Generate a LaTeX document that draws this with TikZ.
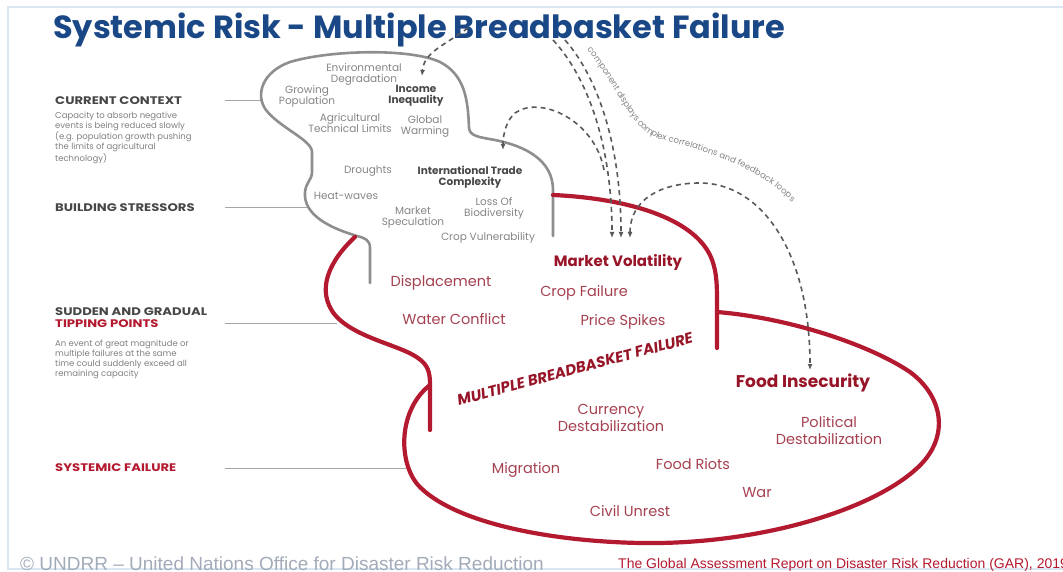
\documentclass[tikz,border=0pt]{standalone}
\usepackage{fontspec}
\setmainfont{Poppins}
\newfontfamily\footfont{Liberation Sans}
\usetikzlibrary{arrows.meta,decorations.text}
\definecolor{undrrblue}{HTML}{1A4886}
\definecolor{riskred}{HTML}{B3192F}
\definecolor{labelred}{HTML}{A5404F}
\definecolor{headgray}{HTML}{8E8E8E}
\definecolor{textgray}{HTML}{858585}
\definecolor{framegray}{HTML}{DCE6F2}
\definecolor{creditgray}{HTML}{A3ABB8}

\begin{document}
\begin{tikzpicture}[x=1pt, y=-1pt,
    headtext/.style={text=textgray, font=\fontsize{10.5}{11}\selectfont, align=center, inner sep=0pt},
    headbold/.style={headtext, text=black!72, font=\fontsize{10.5}{11}\selectfont\bfseries},
    failtext/.style={text=labelred, font=\fontsize{14.5}{17}\selectfont, align=center, inner sep=0pt},
    failbold/.style={failtext, text=riskred!85!black, font=\fontsize{15}{17}\selectfont\bfseries},
    stage/.style={anchor=west, xscale=1.2, font=\fontsize{11}{12}\selectfont\bfseries, text=black!72, inner sep=0pt},
    note/.style={anchor=north west, align=left, font=\fontsize{8.5}{10}\selectfont, text=black!50, inner sep=0pt},
    guide/.style={draw=black!35, line width=1pt},
    outline/.style={line width=2.6pt, draw=headgray, line cap=round},
    redline/.style={line width=4.2pt, draw=riskred, line cap=round},
    feedback/.style={draw=black!65, line width=1.6pt, dash pattern=on 5pt off 4pt},
    tip/.style={-{Latex[length=6pt,width=5pt]}},
  ]
  \useasboundingbox (0,0) rectangle (1063,572);
  \draw[framegray, line width=1.5pt] (8,7) rectangle (1075,569);

  \node[anchor=base west, inner sep=0pt, text=undrrblue, font=\fontsize{32}{34}\selectfont\bfseries] (title) at (53,39) {Systemic Risk - Multiple Breadbasket Failure};

  % left column
  \node[stage] (context) at (55,101) {CURRENT CONTEXT};
  \node[note] (contextnote) at (55,112) {Capacity to absorb negative\\events is being reduced slowly\\(e.g. population growth pushing\\the limits of agricultural\\technology)};
  \node[stage] (stressors) at (55,208) {BUILDING STRESSORS};
  \node[stage] (sudden) at (55,312) {SUDDEN AND GRADUAL};
  \node[stage, text=riskred] (tipping) at (55,324) {TIPPING POINTS};
  \node[note] (tippingnote) at (55,340) {An event of great magnitude or\\multiple failures at the same\\time could suddenly exceed all\\remaining capacity};
  \node[stage, text=riskred] (systemic) at (55,468) {SYSTEMIC FAILURE};

  \coordinate (contextend) at (262,101);
  \coordinate (stressorsend) at (307,208);
  \coordinate (tippingend) at (337,323);
  \coordinate (systemicend) at (406,468);
  \draw[guide] (contextend -| 225,0) -- (contextend);
  \draw[guide] (stressorsend -| 225,0) -- (stressorsend);
  \draw[guide] (tippingend -| 225,0) -- (tippingend);
  \draw[guide] (systemicend -| 225,0) -- (systemicend);

  % head
  \draw[outline] (370,283) -- (370,248) .. controls (370,240) and (365,238) .. (357,236)
    .. controls (330,228) and (303,215) .. (305,192) .. controls (306,182) and (312,180) .. (312,172)
    -- (312,152) .. controls (312,140) and (280,128) .. (266,110)
    .. controls (255,95) and (262,72) .. (290,62) .. controls (330,50) and (410,48) .. (440,62)
    .. controls (465,75) and (468,100) .. (469,128) .. controls (470,136) and (478,137) .. (495,140)
    .. controls (525,146) and (553,160) .. (553,190) -- (553,236);

  % breadbasket
  \draw[redline] (553,195) .. controls (620,198) and (690,215) .. (710,255)
    .. controls (716,268) and (717,280) .. (717,300) -- (717,348);
  \draw[redline] (717,312) .. controls (790,318) and (870,345) .. (910,372)
    .. controls (945,398) and (950,440) .. (915,470) .. controls (870,510) and (760,545) .. (640,543)
    .. controls (540,541) and (450,520) .. (418,485) .. controls (398,462) and (398,410) .. (430,385);
  \draw[redline] (355,237) .. controls (330,260) and (315,290) .. (335,315)
    .. controls (355,338) and (400,345) .. (418,358) .. controls (428,365) and (430,372) .. (430,385) -- (430,430);

  \node[headtext] (envdeg) at (364,74) {Environmental\\Degradation};
  \node[headtext] (growpop) at (307,96) {Growing\\Population};
  \node[headbold] (income) at (416,96) {Income\\Inequality};
  \node[headtext] (agrilimits) at (350,123) {Agricultural\\Technical Limits};
  \node[headtext] (warming) at (425,127) {Global\\Warming};
  \node[headtext] (droughts) at (368,171) {Droughts};
  \node[headbold] (trade) at (470,177) {International Trade\\Complexity};
  \node[headtext] (heatwaves) at (346,196) {Heat-waves};
  \node[headtext] (speculation) at (413,217) {Market\\Speculation};
  \node[headtext] (biodiv) at (494,208) {Loss Of\\Biodiversity};
  \node[headtext] (cropvuln) at (488,238) {Crop Vulnerability};

  \node[failbold] (volatility) at (618,262) {Market Volatility};
  \node[failtext] (displacement) at (441,283) {Displacement};
  \node[failtext] (cropfail) at (584,293) {Crop Failure};
  \node[failtext] (water) at (454,319) {Water Conflict};
  \node[failtext] (spikes) at (623,322) {Price Spikes};
  \node[failbold, font=\fontsize{15}{17}\selectfont\bfseries\itshape, rotate=15] (mbf) at (575,369) {MULTIPLE BREADBASKET FAILURE};
  \node[failbold, font=\fontsize{17}{19}\selectfont\bfseries] (insecurity) at (803,383) {Food Insecurity};
  \node[failtext] (currency) at (611,418) {Currency\\Destabilization};
  \node[failtext] (political) at (829,431) {Political\\Destabilization};
  \node[failtext] (migration) at (526,470) {Migration};
  \node[failtext] (riots) at (693,464) {Food Riots};
  \node[failtext] (war) at (757,493) {War};
  \node[failtext] (unrest) at (630,511) {Civil Unrest};

  % feedback loops
  \coordinate (loopa) at (468,28);
  \coordinate (loopA) at (553,40);
  \coordinate (loopB) at (565,40);
  \coordinate (merge) at (604,170);
  \draw[feedback, tip] (loopa) .. controls (445,45) and (424,52) .. (422,76);
  \draw[feedback, tip] (loopA) .. controls (590,80) and (612,150) .. (612,238);
  \draw[feedback, tip] (loopB) .. controls (600,80) and (621,150) .. (621,238);
  \draw[feedback, tip] (merge) .. controls (595,120) and (540,95) .. (515,113) .. controls (507,120) and (503,133) .. (503,150);
  \draw[feedback, {Latex[length=6pt,width=5pt]}-{Latex[length=6pt,width=5pt]}] (630,238) .. controls (630,200) and (660,183) .. (700,183) .. controls (760,183) and (810,250) .. (810,370);
  \path[decorate, decoration={text along path, raise=4pt, text color=textgray,
    text={|\fontsize{8.5}{9}\selectfont|component displays complex correlations and feedback loops}}]
    (584,52) .. controls (616,92) and (626,130) .. (656,142) .. controls (708,156) and (768,174) .. (798,216);

  % credits
  \node[anchor=base west, inner sep=0pt, text=creditgray, font=\footfont\fontsize{19}{20}\selectfont] (undrr) at (20,570) {© UNDRR – United Nations Office for Disaster Risk Reduction};
  \node[anchor=base west, inner sep=0pt, text=riskred, font=\footfont\fontsize{14}{15}\selectfont] (gar) at (618,568) {The Global Assessment Report on Disaster Risk Reduction (GAR), 2019};
\end{tikzpicture}
\end{document}
